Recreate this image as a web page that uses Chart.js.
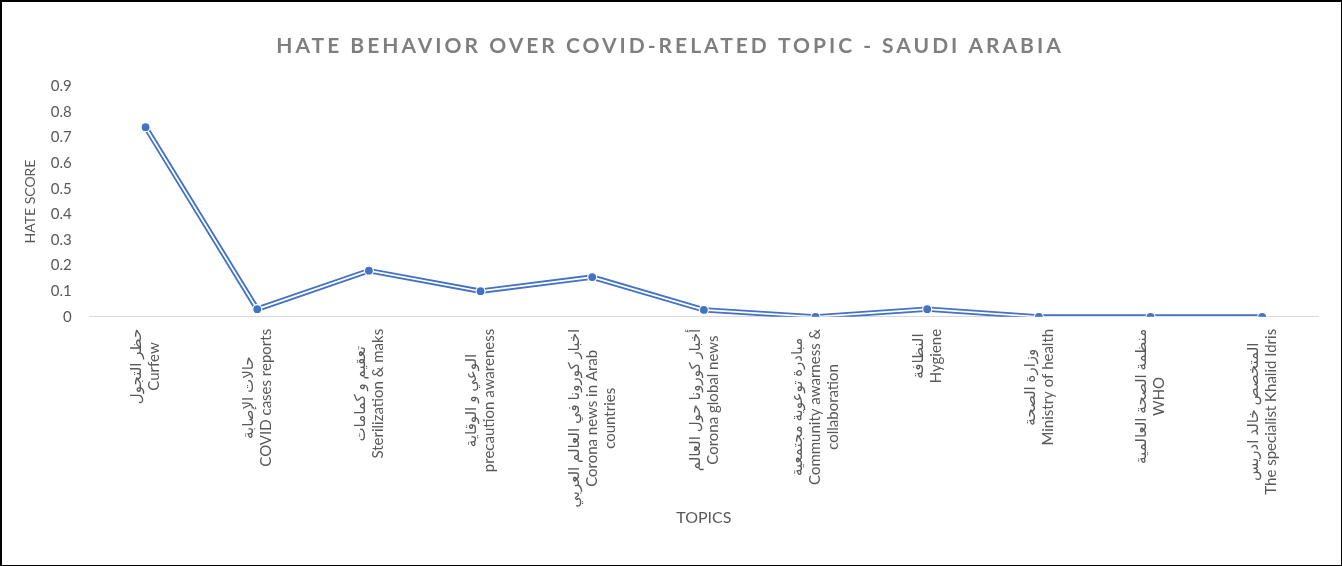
<!DOCTYPE html>
<html>
<head>
<meta charset="utf-8">
<script src="https://cdn.jsdelivr.net/npm/chart.js@4"></script>
<style>
  html, body { margin: 0; padding: 0; background: #fff; }
  #frame {
    width: 1342px;
    height: 566px;
    box-sizing: border-box;
    border: 2px solid #000;
    border-right-width: 1px;
    border-bottom-width: 1px;
  }
  #wrap { position: relative; width: 1339px; height: 563px; }
</style>
</head>
<body>
<div id="frame"><div id="wrap"><canvas id="hate-chart"></canvas></div></div>
<script>
// topics, arabic line + english line(s)
const topicsAr = [
  'حظر التجول',
  'حالات الإصابة',
  'تعقيم و كمامات',
  'الوعي و الوقاية',
  'اخبار كورونا في العالم العربي',
  'أخبار كورونا حول العالم',
  'مبادرة توعوية مجتمعية',
  'النظافة',
  'وزارة الصحة',
  'منظمة الصحة العالمية',
  'المتخصص خالد ادريس'
]
const topicsEn = [
  ['Curfew'],
  ['COVID cases reports'],
  ['Sterilization & maks'],
  ['precaution awareness'],
  ['Corona news in Arab', 'countries'],
  ['Corona global news'],
  ['Community awarness &', 'collaboration'],
  ['Hygiene'],
  ['Ministry of health'],
  ['WHO'],
  ['The specialist Khalid Idris']
]
const hateScores = [0.74, 0.03, 0.18, 0.10, 0.155, 0.027, 0.0, 0.03, 0.0, 0.0, 0.0]

const chartTitle = 'HATE BEHAVIOR OVER COVID-RELATED TOPIC - SAUDI ARABIA'
const yTitle = 'HATE SCORE'
const xTitle = 'TOPICS'

const labels = topicsAr.map((ar, i) => [ar, ...topicsEn[i]])

const FONT = 'Lato, "DejaVu Sans", sans-serif'
const TEXT_GREY = '#595959'
const BLUE = '#4472c4'

Chart.defaults.font.family = FONT
Chart.defaults.color = TEXT_GREY

// letter spaced title, like the excel one
const spacedTitle = {
  id: 'spacedTitle',
  afterInit (chart) {
    const tb = chart.titleBlock
    if (!tb) return
    const orig = tb.draw.bind(tb)
    tb.draw = function () {
      chart.ctx.save()
      chart.ctx.letterSpacing = '3px'
      orig()
      chart.ctx.restore()
    }
  }
}

// excel centers each line of a rotated label, chart.js right-aligns them
const centeredTicks = {
  id: 'centeredTicks',
  afterDraw (chart) {
    const xs = chart.scales.x
    const ctx = chart.ctx
    const lineH = 18
    ctx.save()
    ctx.font = '15px ' + FONT
    ctx.fillStyle = TEXT_GREY
    ctx.textAlign = 'center'
    ctx.textBaseline = 'middle'
    labels.forEach((lines, i) => {
      const x = xs.getPixelForTick(i)
      const maxW = Math.max(...lines.map(l => ctx.measureText(l).width))
      ctx.save()
      ctx.translate(x, xs.top + 12 + maxW / 2)
      ctx.rotate(-Math.PI / 2)
      lines.forEach((line, j) => {
        ctx.fillText(line, 0, (j - (lines.length - 1) / 2) * lineH)
      })
      ctx.restore()
    })
    ctx.restore()
  }
}

const lineBase = {
  data: hateScores,
  fill: false,
  tension: 0,
  borderJoinStyle: 'miter'
}

new Chart(document.getElementById('hate-chart'), {
  type: 'line',
  data: {
    labels: labels,
    datasets: [
      {
        ...lineBase,
        label: 'markers',
        showLine: false,
        pointRadius: 4.5,
        pointBackgroundColor: BLUE,
        pointBorderColor: '#fff',
        pointBorderWidth: 1.2,
        order: 0
      },
      {
        ...lineBase,
        label: 'inner',
        borderColor: '#fff',
        borderWidth: 1.7,
        pointRadius: 0,
        order: 1
      },
      {
        ...lineBase,
        label: 'outer',
        borderColor: BLUE,
        borderWidth: 5.4,
        pointRadius: 0,
        order: 2
      }
    ]
  },
  options: {
    responsive: true,
    maintainAspectRatio: false,
    animation: false,
    layout: {
      padding: { left: 20, right: 23, top: 0, bottom: 38 }
    },
    scales: {
      x: {
        type: 'category',
        offset: true,
        grid: { display: false },
        border: { display: true, color: '#d9d9d9', width: 1 },
        ticks: {
          color: 'rgba(0,0,0,0)',
          font: { size: 15 },
          minRotation: 90,
          maxRotation: 90,
          autoSkip: false,
          padding: 12
        },
        title: {
          display: true,
          text: xTitle,
          color: TEXT_GREY,
          font: { size: 16 },
          padding: { top: -20, bottom: 0 }
        }
      },
      y: {
        min: 0,
        max: 0.9,
        grid: { display: false },
        border: { display: false },
        ticks: {
          stepSize: 0.1,
          font: { size: 15 },
          color: TEXT_GREY,
          padding: 10
        },
        title: {
          display: true,
          text: yTitle,
          color: TEXT_GREY,
          font: { size: 14 },
          padding: { top: 0, bottom: 2 }
        }
      }
    },
    plugins: {
      legend: { display: false },
      tooltip: { enabled: false },
      title: {
        display: true,
        text: chartTitle,
        color: '#7f7f7f',
        font: { size: 21, weight: 'bold' },
        padding: { top: 32, bottom: 27 }
      }
    }
  },
  plugins: [spacedTitle, centeredTicks]
})
</script>
</body>
</html>
